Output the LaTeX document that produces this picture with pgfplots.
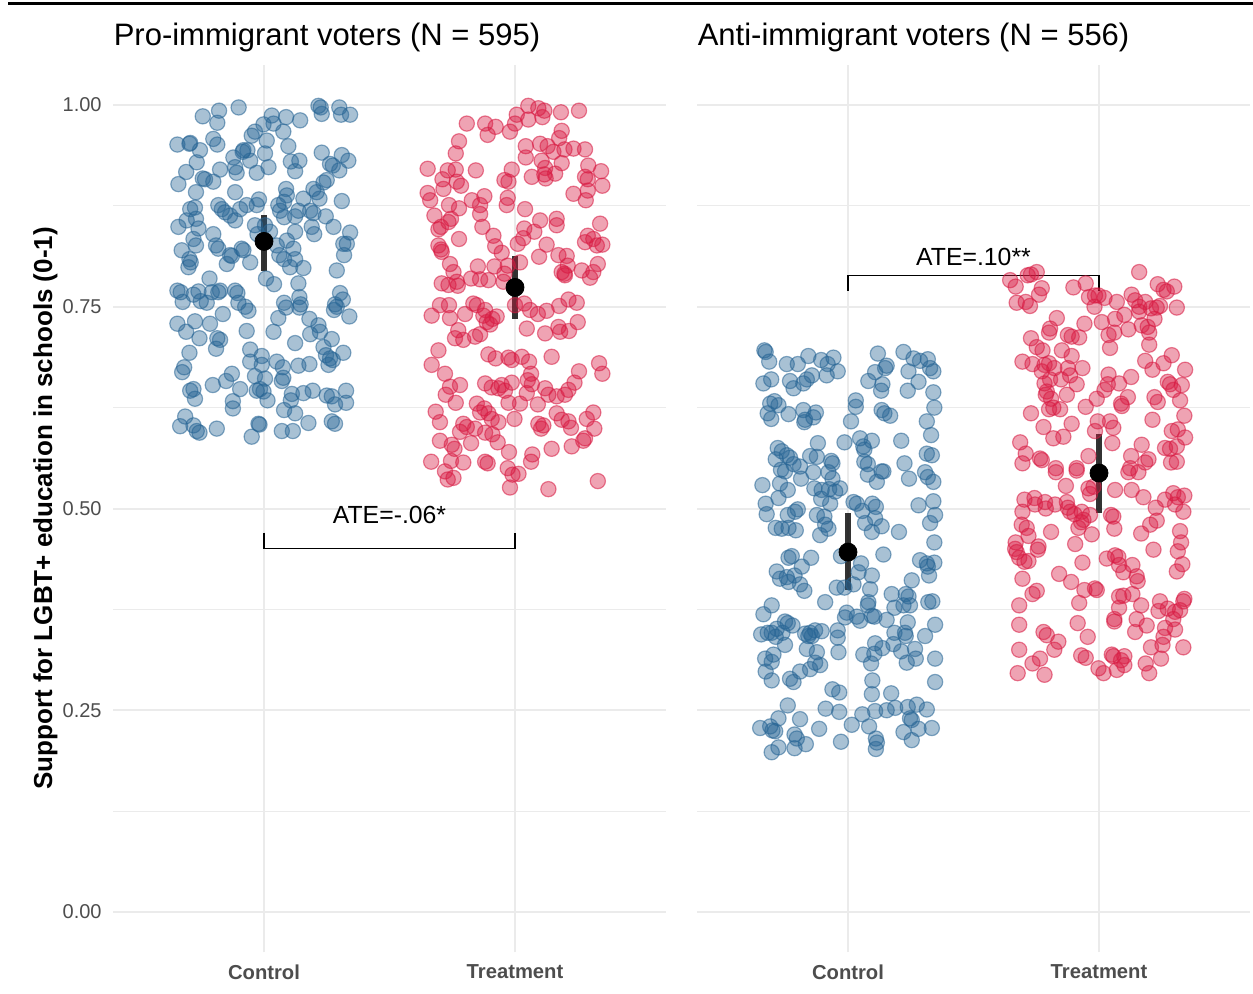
\documentclass[border=0pt]{standalone}
\usepackage{fontspec}
\setmainfont{Liberation Sans}
\usepackage{pgfplots}
\usepackage{pgfplotstable}
\pgfplotsset{compat=1.18}
\definecolor{ptblue}{RGB}{38,100,148}
\definecolor{ptred}{RGB}{215,25,65}
\definecolor{gridc}{RGB}{235,235,235}
\definecolor{ticktxt}{RGB}{77,77,77}

\pgfplotstableread{
x y
0.756 0.986
0.821 0.993
0.814 0.978
0.899 0.997
1.031 0.987
1.088 0.985
1.144 0.981
1.038 0.977
0.998 0.976
1.077 0.967
1.217 0.999
1.230 0.989
1.226 0.997
1.300 0.997
1.307 0.988
1.343 0.988
0.655 0.951
0.703 0.952
0.706 0.953
0.745 0.944
0.798 0.958
0.814 0.951
0.918 0.944
0.915 0.942
0.934 0.944
0.951 0.962
0.964 0.967
1.011 0.956
1.004 0.940
1.097 0.949
1.107 0.930
1.141 0.931
1.124 0.918
1.230 0.941
1.263 0.927
1.274 0.925
1.310 0.938
1.336 0.931
1.300 0.919
0.878 0.935
0.885 0.923
0.891 0.916
0.971 0.916
1.018 0.923
0.945 0.931
0.732 0.929
0.690 0.917
0.659 0.902
0.756 0.909
0.765 0.908
0.798 0.905
0.825 0.920
0.729 0.892
0.885 0.892
1.088 0.896
1.091 0.888
1.080 0.880
1.157 0.884
1.197 0.896
1.210 0.892
1.237 0.904
1.250 0.907
1.221 0.884
1.310 0.881
0.980 0.883
0.971 0.876
0.931 0.876
1.057 0.876
1.064 0.869
1.137 0.869
1.184 0.869
1.197 0.866
1.246 0.862
0.706 0.871
0.725 0.873
0.692 0.857
0.659 0.849
0.729 0.859
0.739 0.847
0.719 0.834
0.729 0.826
0.672 0.820
0.703 0.809
0.708 0.805
0.798 0.840
0.818 0.876
0.832 0.871
0.845 0.867
0.865 0.863
0.885 0.857
0.905 0.871
0.964 0.851
0.974 0.840
1.024 0.843
1.004 0.851
1.080 0.861
1.124 0.862
1.124 0.843
1.091 0.832
1.190 0.849
1.200 0.840
1.277 0.849
1.343 0.842
1.316 0.828
1.330 0.828
1.319 0.814
0.809 0.826
0.818 0.822
0.865 0.814
0.872 0.813
0.911 0.822
0.918 0.820
0.945 0.805
0.852 0.803
1.051 0.826
1.061 0.814
1.080 0.809
1.117 0.822
1.124 0.809
1.104 0.799
1.157 0.798
1.290 0.795
0.699 0.799
1.008 0.785
1.040 0.778
1.137 0.779
0.783 0.785
0.655 0.770
0.668 0.768
0.676 0.756
0.719 0.765
0.739 0.769
0.748 0.757
0.772 0.755
0.792 0.768
0.818 0.768
0.825 0.770
0.885 0.770
0.894 0.767
0.898 0.755
0.925 0.750
0.938 0.745
0.836 0.741
1.080 0.755
1.088 0.749
1.141 0.762
1.146 0.753
1.141 0.749
1.303 0.767
1.314 0.759
1.283 0.753
1.279 0.746
1.290 0.750
1.340 0.738
1.057 0.736
1.038 0.719
0.931 0.720
0.655 0.729
0.690 0.719
0.725 0.732
0.743 0.711
0.785 0.729
0.814 0.711
0.825 0.709
0.809 0.698
0.703 0.693
0.682 0.675
0.674 0.669
0.945 0.697
0.945 0.682
0.991 0.689
0.991 0.678
1.051 0.682
1.075 0.675
1.077 0.662
1.071 0.658
1.137 0.677
1.181 0.679
1.181 0.735
1.217 0.727
1.223 0.719
1.184 0.716
1.270 0.710
1.237 0.700
1.247 0.690
1.263 0.686
1.257 0.678
1.274 0.684
1.316 0.693
1.124 0.705
0.872 0.667
0.849 0.658
0.796 0.653
0.706 0.646
0.719 0.648
0.725 0.636
0.905 0.648
0.964 0.664
1.004 0.661
0.971 0.646
0.984 0.648
0.998 0.645
1.014 0.634
0.876 0.633
0.876 0.624
1.080 0.622
1.124 0.618
1.107 0.634
1.111 0.642
1.157 0.643
1.194 0.646
1.250 0.640
1.270 0.639
1.283 0.629
1.327 0.646
1.327 0.631
1.177 0.606
1.270 0.608
1.283 0.605
1.071 0.596
1.115 0.596
0.978 0.605
0.982 0.604
0.951 0.589
0.812 0.599
0.732 0.596
0.743 0.594
0.719 0.603
0.686 0.614
0.666 0.602
}\lcontrol

\pgfplotstableread{
x y
2.053 0.999
2.093 0.996
2.117 0.993
2.109 0.985
2.053 0.982
2.007 0.988
2.000 0.977
1.980 0.967
1.923 0.973
1.891 0.963
1.881 0.977
1.808 0.977
2.183 0.991
2.255 0.993
2.186 0.968
2.176 0.959
2.100 0.952
2.043 0.949
2.043 0.935
2.130 0.949
2.153 0.942
2.197 0.945
2.233 0.946
2.279 0.945
2.106 0.931
2.120 0.922
2.117 0.914
2.122 0.909
2.160 0.915
2.186 0.928
2.067 0.911
1.777 0.955
1.764 0.940
1.652 0.921
1.732 0.919
1.764 0.920
1.711 0.908
1.715 0.896
1.768 0.905
1.785 0.900
1.844 0.919
1.987 0.920
1.958 0.907
1.974 0.905
2.292 0.925
2.343 0.918
2.279 0.911
2.290 0.908
2.348 0.900
2.233 0.890
2.290 0.894
2.282 0.882
1.652 0.891
1.662 0.882
1.737 0.876
1.777 0.872
1.828 0.882
1.861 0.876
1.878 0.887
1.861 0.865
1.971 0.885
1.967 0.876
2.040 0.871
1.679 0.863
1.745 0.859
1.735 0.855
1.705 0.849
1.695 0.846
1.870 0.849
1.914 0.838
1.777 0.834
2.037 0.847
2.077 0.843
2.033 0.835
2.100 0.857
2.166 0.859
2.166 0.851
2.339 0.853
2.290 0.838
2.312 0.834
2.279 0.830
2.326 0.826
2.348 0.827
1.695 0.826
1.705 0.821
1.708 0.818
1.921 0.825
1.947 0.817
2.011 0.828
2.126 0.827
2.096 0.812
2.173 0.814
2.206 0.813
2.210 0.801
2.197 0.791
2.266 0.795
2.330 0.803
2.312 0.793
1.741 0.803
1.755 0.793
1.852 0.800
1.918 0.800
1.971 0.801
1.958 0.791
2.020 0.805
1.708 0.779
1.735 0.777
1.772 0.776
1.768 0.781
1.825 0.785
1.861 0.784
1.894 0.783
1.954 0.781
2.186 0.793
2.199 0.789
2.299 0.786
1.701 0.752
1.737 0.752
1.668 0.739
1.741 0.736
1.801 0.741
1.834 0.754
1.848 0.752
1.881 0.746
1.874 0.739
1.887 0.731
1.901 0.728
1.927 0.738
1.910 0.735
1.774 0.721
1.761 0.711
1.794 0.709
1.841 0.713
1.861 0.716
2.000 0.752
2.037 0.754
2.060 0.746
2.091 0.741
2.126 0.745
2.176 0.751
2.213 0.759
2.246 0.755
2.047 0.723
2.120 0.717
2.173 0.725
2.180 0.719
2.215 0.720
2.250 0.731
1.695 0.696
1.668 0.678
1.721 0.667
1.741 0.651
1.781 0.653
1.724 0.641
1.764 0.631
1.894 0.691
1.923 0.686
1.974 0.687
1.987 0.684
2.027 0.688
2.056 0.682
2.064 0.667
2.051 0.659
2.067 0.654
2.146 0.688
2.335 0.680
2.348 0.667
2.255 0.670
2.237 0.656
1.881 0.655
1.907 0.650
1.934 0.649
1.947 0.653
1.960 0.646
1.987 0.656
1.974 0.631
2.020 0.630
2.047 0.643
2.091 0.629
2.120 0.649
2.133 0.641
2.166 0.639
2.199 0.641
2.213 0.647
1.848 0.630
1.878 0.624
1.861 0.619
1.894 0.618
1.907 0.611
1.934 0.607
1.998 0.611
1.684 0.620
1.701 0.607
1.794 0.605
1.808 0.601
1.781 0.595
1.841 0.599
1.881 0.594
1.910 0.592
2.093 0.605
2.113 0.603
2.104 0.599
2.166 0.618
2.186 0.610
2.213 0.608
2.223 0.600
2.286 0.611
2.312 0.619
2.316 0.599
2.279 0.587
2.272 0.584
1.701 0.584
1.748 0.579
1.759 0.574
1.825 0.581
1.931 0.582
1.976 0.570
2.069 0.567
2.064 0.558
2.146 0.574
2.226 0.577
1.666 0.558
1.745 0.559
1.794 0.557
1.881 0.558
1.891 0.556
1.721 0.546
1.732 0.536
1.755 0.538
1.971 0.550
1.990 0.542
2.014 0.543
1.980 0.526
2.133 0.524
2.330 0.534
}\ltreat

\pgfplotstableread{
x y
0.667 0.696
0.672 0.694
0.686 0.682
0.756 0.679
0.800 0.679
0.842 0.689
0.893 0.684
0.919 0.679
0.942 0.687
0.959 0.670
0.915 0.665
0.856 0.665
0.836 0.660
0.822 0.655
0.769 0.658
0.783 0.649
0.663 0.655
0.694 0.660
0.690 0.630
0.707 0.633
0.723 0.628
0.680 0.618
0.694 0.611
0.763 0.617
0.822 0.622
0.829 0.610
0.826 0.607
0.862 0.613
0.872 0.619
1.119 0.692
1.154 0.677
1.148 0.674
1.108 0.669
1.081 0.658
1.137 0.654
1.132 0.646
1.221 0.694
1.261 0.686
1.287 0.683
1.318 0.685
1.327 0.674
1.340 0.670
1.241 0.670
1.281 0.657
1.238 0.646
1.340 0.644
1.031 0.634
1.031 0.626
1.012 0.608
1.134 0.622
1.145 0.618
1.168 0.615
1.344 0.625
1.314 0.608
1.331 0.591
1.212 0.584
0.986 0.582
1.048 0.587
1.061 0.577
1.065 0.573
1.095 0.584
0.880 0.581
0.720 0.575
0.736 0.571
0.756 0.566
0.769 0.563
0.712 0.561
0.783 0.555
0.733 0.548
0.749 0.546
0.809 0.552
0.849 0.565
0.876 0.564
0.938 0.556
0.933 0.559
0.922 0.545
0.862 0.545
0.813 0.537
0.659 0.529
0.729 0.531
0.760 0.523
1.065 0.558
1.079 0.555
1.079 0.542
1.115 0.533
1.134 0.546
1.141 0.546
1.225 0.556
1.243 0.537
1.307 0.545
1.318 0.539
1.340 0.533
1.314 0.568
1.334 0.566
0.866 0.525
0.895 0.523
0.925 0.524
0.949 0.521
0.968 0.525
0.938 0.537
0.893 0.512
0.929 0.506
0.723 0.513
0.672 0.506
0.676 0.493
0.760 0.492
0.789 0.496
0.800 0.499
0.876 0.492
0.906 0.490
0.909 0.480
0.922 0.475
0.889 0.467
0.712 0.476
0.736 0.475
0.763 0.476
0.792 0.473
1.022 0.508
1.035 0.506
1.057 0.497
1.097 0.506
1.111 0.502
1.108 0.488
1.068 0.482
1.095 0.471
1.134 0.478
1.203 0.471
1.281 0.504
1.340 0.509
1.347 0.492
1.327 0.482
1.344 0.458
1.141 0.443
0.763 0.439
0.776 0.441
0.853 0.439
0.972 0.441
1.052 0.432
1.042 0.421
1.095 0.417
1.022 0.406
0.955 0.402
0.986 0.402
1.088 0.400
0.716 0.422
0.729 0.413
0.756 0.415
0.763 0.409
0.787 0.417
0.816 0.428
0.809 0.406
0.826 0.398
1.287 0.436
1.314 0.432
1.318 0.428
1.344 0.433
1.323 0.417
1.254 0.411
1.174 0.394
1.230 0.394
1.241 0.391
1.221 0.380
1.185 0.377
1.247 0.380
1.320 0.384
1.336 0.385
1.081 0.384
1.079 0.380
0.909 0.384
0.696 0.380
0.663 0.369
0.995 0.371
0.988 0.365
1.035 0.366
1.048 0.361
1.095 0.367
1.105 0.366
1.154 0.362
1.238 0.359
1.347 0.356
0.749 0.360
0.760 0.358
0.779 0.355
0.716 0.351
0.654 0.344
0.680 0.346
0.696 0.346
0.712 0.341
0.739 0.346
0.749 0.331
0.829 0.345
0.849 0.346
0.869 0.349
0.895 0.348
0.842 0.342
0.856 0.342
0.959 0.349
0.959 0.340
0.962 0.322
1.185 0.346
1.227 0.346
1.230 0.342
1.307 0.342
0.836 0.326
0.876 0.322
0.869 0.309
0.889 0.306
0.849 0.301
0.809 0.298
0.670 0.314
0.672 0.298
0.696 0.310
0.703 0.319
0.696 0.287
0.769 0.289
0.783 0.285
1.061 0.319
1.092 0.308
1.105 0.320
1.108 0.333
1.137 0.327
1.181 0.332
1.212 0.323
1.234 0.309
1.270 0.314
1.267 0.326
1.347 0.314
1.347 0.285
1.097 0.287
1.095 0.270
1.172 0.271
0.938 0.276
0.965 0.272
0.760 0.256
0.911 0.252
0.965 0.248
1.015 0.232
1.057 0.245
1.084 0.230
1.108 0.249
1.154 0.250
1.188 0.253
1.238 0.254
1.247 0.240
1.254 0.238
1.274 0.257
1.314 0.251
1.281 0.227
1.334 0.228
1.221 0.223
1.254 0.213
1.111 0.215
1.115 0.210
1.111 0.202
0.972 0.211
0.885 0.227
0.809 0.239
0.723 0.240
0.690 0.230
0.699 0.225
0.710 0.224
0.650 0.228
0.787 0.220
0.796 0.215
0.832 0.208
0.787 0.203
0.723 0.204
0.696 0.198
}\rcontrol

\pgfplotstableread{
x y
1.646 0.783
1.668 0.775
1.716 0.789
1.729 0.790
1.752 0.793
1.772 0.773
1.761 0.765
1.672 0.755
1.708 0.756
1.725 0.751
1.898 0.774
1.947 0.779
1.960 0.762
1.984 0.764
1.998 0.764
1.982 0.750
2.022 0.761
2.160 0.793
2.234 0.778
2.257 0.771
2.270 0.769
2.300 0.775
2.130 0.765
2.144 0.758
2.160 0.750
2.184 0.756
2.207 0.748
2.230 0.749
2.243 0.751
2.310 0.749
2.160 0.744
2.071 0.756
2.101 0.740
2.064 0.735
2.011 0.731
2.038 0.715
2.061 0.718
2.044 0.699
2.117 0.722
2.170 0.727
2.194 0.725
2.200 0.718
2.221 0.735
2.200 0.703
1.832 0.736
1.805 0.723
1.801 0.718
1.729 0.711
1.752 0.700
1.775 0.696
1.876 0.715
1.891 0.713
1.921 0.712
1.942 0.729
1.852 0.696
1.891 0.689
1.695 0.682
1.735 0.679
1.783 0.678
1.801 0.680
1.822 0.674
1.772 0.670
1.876 0.674
1.885 0.665
1.934 0.674
1.849 0.660
1.805 0.660
1.783 0.655
1.792 0.645
1.788 0.641
1.809 0.636
1.818 0.625
1.845 0.623
1.801 0.623
1.872 0.641
1.911 0.654
2.038 0.666
2.035 0.654
2.022 0.647
2.080 0.655
2.128 0.663
2.115 0.638
2.088 0.630
2.091 0.627
1.991 0.636
1.947 0.626
2.184 0.683
2.213 0.672
2.257 0.680
2.290 0.690
2.343 0.672
2.274 0.657
2.283 0.654
2.296 0.647
2.330 0.653
2.221 0.638
2.234 0.632
2.323 0.634
2.340 0.615
2.213 0.610
1.729 0.618
1.779 0.601
1.818 0.587
1.858 0.589
1.891 0.605
1.995 0.608
2.044 0.608
2.057 0.600
1.984 0.596
2.053 0.581
1.958 0.565
1.686 0.582
1.708 0.568
1.695 0.556
1.765 0.562
1.772 0.560
2.128 0.565
2.170 0.579
2.184 0.557
2.197 0.561
2.314 0.598
2.290 0.596
2.343 0.588
2.263 0.575
2.283 0.574
2.310 0.577
2.287 0.557
2.310 0.558
1.828 0.550
1.911 0.550
2.124 0.550
1.828 0.545
1.911 0.547
1.868 0.528
1.958 0.525
1.964 0.518
1.978 0.527
2.064 0.523
2.130 0.523
2.177 0.514
2.117 0.545
2.157 0.545
1.703 0.511
1.695 0.496
1.743 0.513
1.745 0.505
1.785 0.508
1.788 0.500
1.825 0.505
1.872 0.508
1.876 0.501
1.885 0.496
1.902 0.493
1.931 0.496
1.938 0.486
1.964 0.492
1.918 0.476
1.905 0.456
1.971 0.468
1.929 0.483
1.809 0.471
1.692 0.480
1.712 0.476
1.719 0.466
1.668 0.458
1.672 0.446
1.682 0.439
1.703 0.434
1.719 0.435
1.666 0.450
1.759 0.453
1.756 0.449
2.048 0.492
2.057 0.490
2.061 0.475
2.168 0.469
2.204 0.480
2.230 0.485
2.226 0.501
2.263 0.511
2.296 0.519
2.314 0.514
2.340 0.516
2.336 0.496
2.303 0.505
2.323 0.472
2.327 0.458
2.314 0.447
2.217 0.449
2.332 0.431
2.310 0.422
1.695 0.413
1.841 0.419
1.889 0.409
1.934 0.433
1.942 0.399
1.984 0.401
1.991 0.399
2.031 0.438
2.064 0.442
2.077 0.440
2.080 0.430
2.097 0.421
2.133 0.430
2.150 0.416
2.154 0.410
1.735 0.394
1.752 0.398
1.682 0.380
1.921 0.383
2.080 0.391
2.097 0.392
2.133 0.394
2.080 0.377
2.168 0.380
2.243 0.385
2.237 0.373
2.274 0.376
2.303 0.372
2.323 0.374
2.340 0.388
2.336 0.385
2.061 0.363
2.061 0.360
2.150 0.363
2.190 0.355
2.144 0.347
2.296 0.363
2.303 0.350
2.263 0.352
2.257 0.341
2.253 0.331
1.682 0.356
1.915 0.358
1.955 0.341
1.779 0.347
1.792 0.343
1.838 0.335
1.822 0.325
1.682 0.325
1.735 0.308
1.765 0.314
1.676 0.296
1.783 0.294
1.929 0.318
1.947 0.315
1.998 0.302
2.018 0.296
2.051 0.319
2.057 0.317
2.088 0.312
2.101 0.317
2.101 0.306
2.071 0.300
2.186 0.308
2.200 0.296
2.207 0.328
2.247 0.314
2.336 0.328
}\rtreat

\pgfplotsset{
  panel/.style={
    scale only axis, width=276.1pt, height=443.85pt,
    xmin=0.4, xmax=2.6, ymin=-0.05, ymax=1.05,
    xtick={1,2}, xticklabels={Control,Treatment},
    ytick={0,0.25,0.5,0.75,1},
    minor ytick={0.125,0.375,0.625,0.875},
    grid=both,
    major grid style={color=gridc, line width=1pt},
    minor grid style={color=gridc, line width=0.5pt},
    axis line style={draw=none},
    major tick length=0pt, minor tick length=0pt,
    xticklabel style={font=\fontsize{10.1}{12}\selectfont\bfseries, text=ticktxt, anchor=north, inner sep=0pt, yshift=-6pt},
    yticklabel style={font=\fontsize{10}{12}\selectfont, text=ticktxt, anchor=east, inner sep=0pt, xshift=-5.7pt},
    title style={at={(0,1)}, anchor=base west, inner sep=0pt, yshift=3.4pt, font=\fontsize{15.5}{18}\selectfont},
    clip=false,
  },
  bluepts/.style={only marks, mark=*, mark size=3.8pt, mark options={draw=ptblue, fill=ptblue, fill opacity=0.4, draw opacity=0.55, line width=0.6pt}},
  redpts/.style={only marks, mark=*, mark size=3.8pt, mark options={draw=ptred, fill=ptred, fill opacity=0.4, draw opacity=0.55, line width=0.6pt}},
  cibar/.style={draw=none, mark=none, error bars/.cd, y dir=both, y explicit, error mark=none, error bar style={line width=2.6pt, color=black, opacity=0.8}},
  meanpt/.style={only marks, mark=*, mark size=4.5pt, mark options={fill=black, draw=none}},
}

\begin{document}
\begin{tikzpicture}
\useasboundingbox (0,0) rectangle (626.5pt,-496.5pt);
\draw[line width=1.5pt] (4pt,-1.5pt) -- (626.5pt,-1.5pt);

\begin{axis}[panel, at={(56.7pt,-476.175pt)}, anchor=south west,
  title={Pro-immigrant voters (N = 595)},
  yticklabels={0.00,0.25,0.50,0.75,1.00}]
\addplot[bluepts] table[x=x,y=y] {\lcontrol};
\addplot[redpts] table[x=x,y=y] {\ltreat};
\addplot[cibar] coordinates {(1,0.831) += (0,0.033) -= (0,0.037) (2,0.774) += (0,0.039) -= (0,0.039)};
\addplot[meanpt] coordinates {(1,0.831) (2,0.774)};
\addplot[black, line width=0.75pt, mark=none] coordinates {(1,0.470) (1,0.4507) (2,0.4507) (2,0.470)};
\node[anchor=base, font=\fontsize{12.4}{14}\selectfont] at (axis cs:1.5,0.4816) {ATE=-.06*};
\end{axis}

\begin{axis}[panel, at={(348.7pt,-476.175pt)}, anchor=south west,
  title={Anti-immigrant voters (N = 556)},
  yticklabels={}]
\addplot[bluepts] table[x=x,y=y] {\rcontrol};
\addplot[redpts] table[x=x,y=y] {\rtreat};
\addplot[cibar] coordinates {(1,0.446) += (0,0.049) -= (0,0.047) (2,0.544) += (0,0.048) -= (0,0.049)};
\addplot[meanpt] coordinates {(1,0.446) (2,0.544)};
\addplot[black, line width=0.75pt, mark=none] coordinates {(1,0.770) (1,0.7885) (2,0.7885) (2,0.770)};
\node[anchor=base, font=\fontsize{12.4}{14}\selectfont] at (axis cs:1.5,0.8017) {ATE=.10**};
\end{axis}

\node[rotate=90, anchor=base, font=\fontsize{13}{15}\selectfont\bfseries] at (26pt,-254.25pt) {Support for LGBT+ education in schools (0-1)};
\end{tikzpicture}
\end{document}
